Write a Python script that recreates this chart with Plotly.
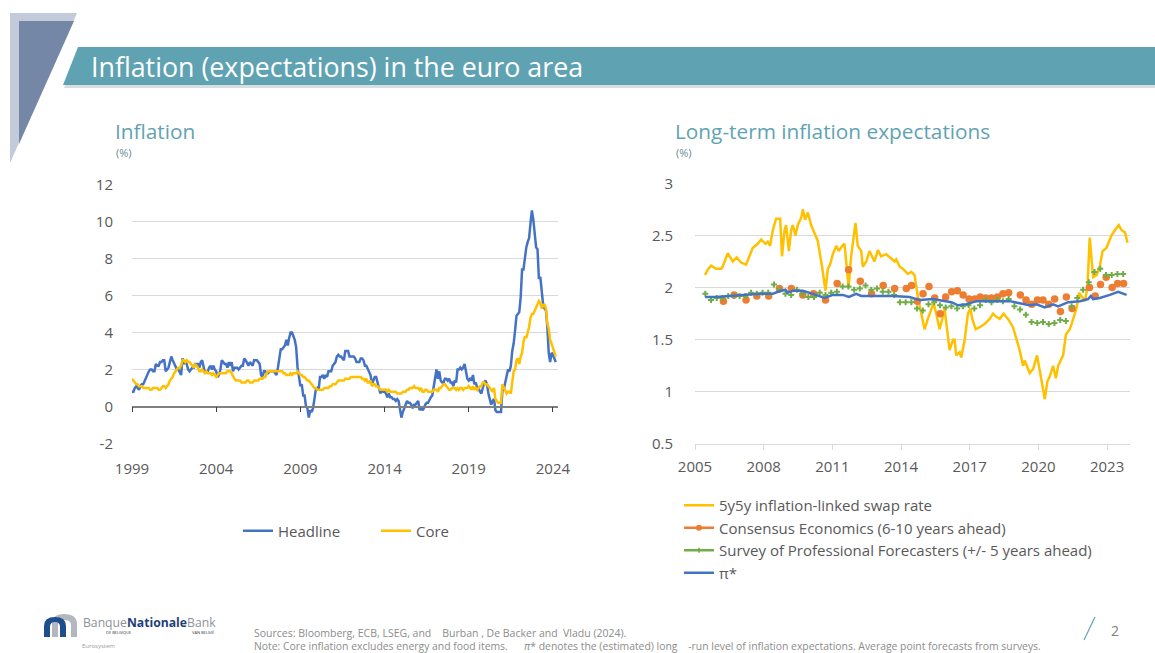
import plotly.graph_objects as go

W, H = 1155, 653

# ---------------- DATA ----------------
# Euro area HICP, y-o-y %, monthly Jan 1999 - Mar 2024
headline = [
    0.8, 0.8, 1.0, 1.1, 1.0, 0.9, 1.1, 1.2, 1.2, 1.4, 1.5, 1.7,
    1.9, 2.0, 2.0, 1.9, 1.9, 2.3, 2.2, 2.2, 2.4, 2.4, 2.5, 2.5,
    1.9, 2.0, 2.1, 2.4, 2.7, 2.5, 2.3, 2.2, 2.0, 2.0, 1.8, 1.7,
    2.6, 2.3, 2.4, 2.3, 2.0, 1.9, 2.0, 2.1, 2.1, 2.3, 2.3, 2.3,
    2.1, 2.4, 2.5, 2.1, 1.8, 1.9, 1.9, 2.1, 2.2, 2.0, 2.2, 2.0,
    1.9, 1.6, 1.7, 2.0, 2.5, 2.4, 2.3, 2.3, 2.1, 2.4, 2.2, 2.4,
    1.9, 2.1, 2.1, 2.1, 2.0, 2.1, 2.2, 2.2, 2.6, 2.5, 2.3, 2.2,
    2.4, 2.3, 2.2, 2.5, 2.5, 2.5, 2.4, 2.3, 1.7, 1.6, 1.9, 1.9,
    1.8, 1.8, 1.9, 1.9, 1.9, 1.9, 1.8, 1.7, 2.1, 2.6, 3.1, 3.1,
    3.2, 3.3, 3.6, 3.3, 3.7, 4.0, 4.0, 3.8, 3.6, 3.2, 2.1, 1.6,
    1.1, 1.2, 0.6, 0.6, 0.0, -0.1, -0.6, -0.2, -0.3, -0.1, 0.5, 0.9,
    1.0, 0.9, 1.6, 1.6, 1.7, 1.5, 1.7, 1.6, 1.9, 1.9, 1.9, 2.2,
    2.3, 2.4, 2.7, 2.8, 2.7, 2.7, 2.6, 2.5, 3.0, 3.0, 3.0, 2.7,
    2.7, 2.7, 2.7, 2.6, 2.4, 2.4, 2.4, 2.6, 2.6, 2.5, 2.2, 2.2,
    2.0, 1.8, 1.7, 1.2, 1.4, 1.6, 1.6, 1.3, 1.1, 0.7, 0.9, 0.8,
    0.8, 0.7, 0.5, 0.7, 0.5, 0.5, 0.4, 0.4, 0.3, 0.4, 0.3, -0.2,
    -0.6, -0.3, -0.1, 0.0, 0.3, 0.2, 0.2, 0.1, -0.1, 0.1, 0.1, 0.2,
    0.3, -0.2, 0.0, -0.2, -0.1, 0.1, 0.2, 0.2, 0.4, 0.5, 0.6, 1.1,
    1.7, 2.0, 1.5, 1.9, 1.4, 1.3, 1.3, 1.5, 1.5, 1.4, 1.5, 1.3,
    1.3, 1.1, 1.4, 1.3, 2.0, 2.0, 2.1, 2.0, 2.1, 2.3, 1.9, 1.5,
    1.4, 1.5, 1.4, 1.7, 1.2, 1.3, 1.0, 1.0, 0.8, 0.7, 1.0, 1.3,
    1.4, 1.2, 0.7, 0.3, 0.1, 0.3, 0.4, -0.2, -0.3, -0.3, -0.3, -0.3,
    0.9, 0.9, 1.3, 1.6, 2.0, 1.9, 2.2, 3.0, 3.4, 4.1, 4.9, 5.0,
    5.1, 5.9, 7.4, 7.4, 8.1, 8.6, 8.9, 9.1, 9.9, 10.6, 10.1, 9.2,
    8.6, 8.5, 6.9, 7.0, 6.1, 5.5, 5.3, 5.2, 4.3, 2.9, 2.4, 2.9,
    2.8, 2.6, 2.4,
]
core = [
    1.5, 1.4, 1.3, 1.2, 1.2, 1.1, 1.1, 1.1, 1.0, 1.0, 1.0, 1.0,
    1.0, 0.9, 0.9, 1.0, 1.0, 1.0, 1.0, 0.9, 0.9, 1.0, 1.1, 1.1,
    1.0, 1.1, 1.2, 1.4, 1.5, 1.6, 1.8, 1.9, 2.0, 2.1, 2.1, 2.2,
    2.5, 2.5, 2.4, 2.5, 2.4, 2.4, 2.3, 2.2, 2.1, 2.3, 2.2, 2.1,
    1.9, 1.9, 2.0, 1.9, 1.8, 1.9, 1.8, 1.8, 1.8, 1.7, 1.8, 1.7,
    1.6, 1.7, 1.8, 1.8, 1.8, 1.8, 1.8, 1.8, 1.9, 1.9, 1.9, 1.8,
    1.6, 1.5, 1.4, 1.4, 1.4, 1.4, 1.3, 1.3, 1.3, 1.3, 1.4, 1.4,
    1.3, 1.3, 1.3, 1.4, 1.4, 1.4, 1.4, 1.5, 1.5, 1.5, 1.6, 1.6,
    1.8, 1.9, 1.9, 1.9, 1.9, 1.9, 1.9, 1.9, 1.9, 1.9, 1.9, 1.9,
    1.8, 1.8, 1.7, 1.7, 1.7, 1.8, 1.7, 1.8, 1.8, 1.8, 1.9, 1.8,
    1.7, 1.7, 1.6, 1.6, 1.5, 1.4, 1.4, 1.3, 1.2, 1.1, 1.0, 1.0,
    0.9, 0.9, 0.9, 0.9, 0.9, 1.0, 1.0, 1.0, 1.0, 1.1, 1.1, 1.2,
    1.2, 1.2, 1.3, 1.4, 1.4, 1.4, 1.4, 1.4, 1.5, 1.5, 1.5, 1.5,
    1.6, 1.6, 1.6, 1.6, 1.6, 1.6, 1.6, 1.6, 1.5, 1.5, 1.4, 1.5,
    1.3, 1.3, 1.4, 1.1, 1.2, 1.2, 1.1, 1.1, 1.0, 0.9, 0.9, 0.9,
    0.9, 0.9, 0.8, 0.9, 0.8, 0.8, 0.8, 0.8, 0.8, 0.7, 0.7, 0.7,
    0.7, 0.8, 0.8, 0.8, 0.9, 0.9, 1.0, 1.0, 1.0, 1.1, 1.0, 1.0,
    1.0, 0.9, 1.0, 0.8, 0.8, 0.9, 0.9, 0.8, 0.8, 0.8, 0.8, 0.9,
    0.9, 0.9, 0.8, 1.0, 1.0, 1.1, 1.2, 1.2, 1.1, 1.0, 0.9, 0.9,
    1.0, 1.0, 1.0, 0.9, 1.0, 0.9, 1.0, 1.0, 0.9, 1.0, 1.0, 1.0,
    1.1, 1.0, 0.9, 1.1, 0.9, 1.0, 0.9, 1.0, 1.1, 1.1, 1.3, 1.3,
    1.2, 1.2, 1.1, 1.0, 0.9, 0.8, 1.0, 0.4, 0.3, 0.2, 0.2, 0.2,
    1.2, 1.0, 0.8, 0.7, 0.8, 0.8, 0.7, 1.5, 1.9, 2.0, 2.5, 2.6,
    2.3, 2.7, 2.9, 3.5, 3.8, 3.7, 4.0, 4.3, 4.8, 5.0, 5.0, 5.2,
    5.3, 5.6, 5.7, 5.6, 5.3, 5.5, 5.5, 5.3, 4.5, 4.2, 3.6, 3.4,
    3.2, 3.0, 2.7,
]
infl_start_year = 1999
infl_months = [infl_start_year + i / 12 for i in range(len(headline))]
left_ticks = [1999, 2004, 2009, 2014, 2019, 2024]
left_yticks = [-2, 0, 2, 4, 6, 8, 10, 12]
left_yticktext = ["-2", "0", "2", "4", "6", "8", "10", "12"]

# 5y5y inflation-linked swap rate (decimal year, %)
swap_t = [2005.44, 2005.55, 2005.70, 2005.92, 2006.14, 2006.21, 2006.43, 2006.65, 2006.82, 2007.01,
          2007.23, 2007.38, 2007.52, 2007.74, 2007.89, 2008.08, 2008.18, 2008.28, 2008.40, 2008.54,
          2008.72, 2008.80, 2008.91, 2008.98, 2009.10, 2009.20, 2009.27, 2009.39, 2009.49, 2009.64,
          2009.71, 2009.81, 2009.93, 2010.07, 2010.22, 2010.36, 2010.55, 2010.70, 2010.80, 2010.90,
          2011.02, 2011.17, 2011.28, 2011.43, 2011.53, 2011.71, 2011.82, 2012.01, 2012.11, 2012.26,
          2012.33, 2012.48, 2012.62, 2012.84, 2012.99, 2013.13, 2013.35, 2013.57, 2013.72, 2013.79,
          2013.94, 2014.08, 2014.30, 2014.45, 2014.59, 2014.74, 2015.03, 2015.17, 2015.32, 2015.42,
          2015.54, 2015.68, 2015.80, 2015.90, 2016.01, 2016.12, 2016.27, 2016.34, 2016.41, 2016.56,
          2016.63, 2016.78, 2016.92, 2017.03, 2017.11, 2017.26, 2017.43, 2017.65, 2017.87, 2018.02,
          2018.16, 2018.31, 2018.48, 2018.67, 2018.89, 2019.04, 2019.18, 2019.33, 2019.40, 2019.62,
          2019.77, 2019.94, 2020.13, 2020.28, 2020.39, 2020.50, 2020.64, 2020.76, 2020.86, 2021.08,
          2021.20, 2021.37, 2021.52, 2021.66, 2021.78, 2022.03, 2022.14, 2022.24, 2022.39, 2022.54,
          2022.68, 2022.80, 2022.97, 2023.09, 2023.19, 2023.34, 2023.51, 2023.63, 2023.78, 2023.89]
swap_v = [2.12, 2.17, 2.21, 2.18, 2.18, 2.20, 2.33, 2.25, 2.29, 2.24,
          2.22, 2.30, 2.38, 2.42, 2.46, 2.42, 2.44, 2.40, 2.55, 2.66,
          2.66, 2.30, 2.55, 2.60, 2.35, 2.55, 2.60, 2.50, 2.60, 2.67,
          2.75, 2.65, 2.72, 2.60, 2.53, 2.45, 2.20, 1.97, 2.18, 2.22,
          2.32, 2.40, 2.35, 2.40, 2.42, 2.00, 2.30, 2.62, 2.40, 2.35,
          2.20, 2.25, 2.35, 2.25, 2.36, 2.30, 2.32, 2.28, 2.25, 2.27,
          2.20, 2.18, 2.13, 2.15, 2.12, 1.90, 1.60, 1.70, 1.78, 1.85,
          1.75, 1.60, 1.70, 1.80, 1.60, 1.40, 1.50, 1.50, 1.35, 1.38,
          1.33, 1.50, 1.75, 1.80, 1.70, 1.60, 1.62, 1.65, 1.70, 1.75,
          1.72, 1.70, 1.75, 1.70, 1.62, 1.50, 1.40, 1.25, 1.30, 1.18,
          1.22, 1.35, 1.10, 0.93, 1.10, 1.15, 1.25, 1.13, 1.25, 1.35,
          1.55, 1.60, 1.70, 1.80, 1.95, 1.87, 2.00, 2.48, 2.10, 2.12,
          2.20, 2.35, 2.38, 2.45, 2.50, 2.55, 2.60, 2.55, 2.53, 2.43]

# Consensus Economics (6-10 years ahead)
cons_t = [2006.24, 2006.71, 2007.23, 2007.70, 2008.22, 2008.69, 2009.21, 2009.71, 2010.18, 2010.70,
          2011.21, 2011.71, 2012.22, 2012.71, 2013.22, 2013.72, 2014.23, 2014.46, 2014.71, 2014.96,
          2015.22, 2015.47, 2015.71, 2015.95, 2016.21, 2016.46, 2016.71, 2016.97, 2017.22, 2017.46,
          2017.70, 2017.94, 2018.21, 2018.45, 2018.70, 2019.21, 2019.46, 2019.71, 2019.96, 2020.20,
          2020.45, 2020.71, 2020.96, 2021.22, 2021.47, 2022.23, 2022.48, 2022.71, 2022.96, 2023.22,
          2023.46, 2023.72]
cons_v = [1.87, 1.93, 1.88, 1.92, 1.92, 1.99, 1.99, 1.93, 1.94, 1.88,
          2.04, 2.17, 2.06, 1.94, 2.02, 1.99, 1.99, 2.02, 1.87, 1.94,
          2.01, 1.90, 1.75, 1.91, 1.96, 1.97, 1.93, 1.89, 1.89, 1.91,
          1.90, 1.90, 1.91, 1.94, 1.95, 1.93, 1.88, 1.84, 1.88, 1.88,
          1.84, 1.89, 1.77, 1.91, 1.80, 2.00, 1.92, 2.03, 2.10, 2.00,
          2.04, 2.04]

# ECB Survey of Professional Forecasters (quarterly, from 2005 Q2)
spf_v = [1.94, 1.88, 1.90, 1.90, 1.92, 1.92, 1.92, 1.92, 1.95, 1.94,
         1.95, 1.95, 2.03, 1.98, 1.94, 1.93, 1.98, 1.94, 1.91, 1.91,
         1.95, 1.93, 1.95, 1.96, 2.01, 2.01, 1.98, 1.99, 2.02, 1.98,
         1.99, 1.96, 1.96, 1.93, 1.86, 1.86, 1.86, 1.80, 1.78, 1.84,
         1.86, 1.83, 1.81, 1.82, 1.80, 1.82, 1.83, 1.80, 1.83, 1.88,
         1.86, 1.88, 1.87, 1.89, 1.82, 1.79, 1.74, 1.67, 1.66, 1.67,
         1.65, 1.66, 1.69, 1.68, 1.82, 1.90, 1.98, 2.05, 2.15, 2.18,
         2.12, 2.12, 2.13, 2.13]
spf_start = 2005.45
spf_t = [spf_start + 0.25 * i for i in range(len(spf_v))]

# pi* (estimated long-run inflation expectations)
pistar_t = [2005.44, 2005.92, 2006.50, 2007.23, 2007.81, 2008.40, 2008.62, 2008.95, 2009.05, 2009.27,
            2009.71, 2010.15, 2010.66, 2011.02, 2011.46, 2011.72, 2012.04, 2012.26, 2012.92, 2013.64,
            2014.37, 2014.81, 2015.39, 2015.83, 2016.20, 2016.49, 2016.85, 2017.29, 2018.02, 2018.75,
            2019.18, 2019.62, 2019.91, 2020.28, 2020.64, 2020.86, 2021.30, 2021.81, 2022.17, 2022.29,
            2022.39, 2022.68, 2023.12, 2023.48, 2023.85]
pistar_v = [1.91, 1.91, 1.92, 1.93, 1.94, 1.94, 1.96, 1.98, 1.95, 1.97,
            1.97, 1.94, 1.90, 1.93, 1.93, 1.91, 1.94, 1.92, 1.92, 1.92,
            1.91, 1.88, 1.89, 1.87, 1.86, 1.83, 1.84, 1.87, 1.87, 1.87,
            1.85, 1.83, 1.84, 1.81, 1.84, 1.82, 1.86, 1.87, 1.89, 1.92,
            1.89, 1.90, 1.93, 1.96, 1.93]
right_ticks = [2005, 2008, 2011, 2014, 2017, 2020, 2023]
right_yticks = [0.5, 1, 1.5, 2, 2.5, 3]
right_yticktext = ["0.5", "1", "1.5", "2", "2.5", "3"]

# ---------------- STYLE ----------------
BLUE = "#4472C4"
YELLOW = "#FFC000"
ORANGE = "#ED7D31"
GREEN = "#70AD47"
TEAL = "#5FA3B3"
GRID = "#D9D9D9"
TXT = "#595959"
FONT = "Open Sans"
CLEAR = "rgba(0,0,0,0)"


def px(x):
    return x / W


def py(y):
    return 1 - y / H


# plot areas (pixels)
L_x0, L_x1, L_ytop, L_ybot = 132, 558, 184.5, 443.5
R_x0, R_x1, R_ytop, R_ybot = 695, 1130, 183.3, 444.0

fig = go.Figure()

fig.add_trace(go.Scatter(x=infl_months, y=headline, mode="lines", name="Headline",
                         line=dict(color=BLUE, width=2.5), xaxis="x", yaxis="y", legend="legend"))
fig.add_trace(go.Scatter(x=infl_months, y=core, mode="lines", name="Core",
                         line=dict(color=YELLOW, width=2.5), xaxis="x", yaxis="y", legend="legend2"))
# helper trace so the zero-line axis is drawn
fig.add_trace(go.Scatter(x=[None], y=[None], xaxis="x3", yaxis="y", showlegend=False, hoverinfo="skip"))

fig.add_trace(go.Scatter(x=swap_t, y=swap_v, mode="lines", name="5y5y inflation-linked swap rate",
                         line=dict(color=YELLOW, width=2.5), xaxis="x2", yaxis="y2", legend="legend3"))
fig.add_trace(go.Scatter(x=cons_t, y=cons_v, mode="markers", showlegend=False,
                         marker=dict(color=ORANGE, size=7.5), xaxis="x2", yaxis="y2"))
fig.add_trace(go.Scatter(x=[None], y=[None], mode="lines+markers", name="Consensus Economics (6-10 years ahead)",
                         line=dict(color=ORANGE, width=2.5), marker=dict(color=ORANGE, size=6),
                         xaxis="x2", yaxis="y2", legend="legend3"))
fig.add_trace(go.Scatter(x=spf_t, y=spf_v, mode="markers", showlegend=False,
                         marker=dict(color=GREEN, size=5, symbol="cross"), xaxis="x2", yaxis="y2"))
fig.add_trace(go.Scatter(x=[None], y=[None], mode="lines+markers",
                         name="Survey of Professional Forecasters (+/- 5 years ahead)",
                         line=dict(color=GREEN, width=2.5), marker=dict(color=GREEN, size=4, symbol="cross"),
                         xaxis="x2", yaxis="y2", legend="legend3"))
fig.add_trace(go.Scatter(x=pistar_t, y=pistar_v, mode="lines", name="π*",
                         line=dict(color=BLUE, width=2.5), xaxis="x2", yaxis="y2", legend="legend3"))

L_ymin, L_ymax = -2, 12
zero_pos = py(L_ybot) + (0 - L_ymin) / (L_ymax - L_ymin) * (py(L_ytop) - py(L_ybot))

tickfont = dict(family=FONT, size=15, color=TXT)

fig.update_layout(
    width=W, height=H, margin=dict(l=0, r=0, t=0, b=0, autoexpand=False),
    paper_bgcolor="white", plot_bgcolor="white",
    font=dict(family=FONT, color=TXT),
    xaxis=dict(domain=[px(L_x0), px(L_x1)], range=[1999, 2024.3], tickvals=left_ticks, anchor="y",
               showgrid=False, zeroline=False, showline=False, ticks="outside", ticklen=11,
               tickcolor=CLEAR, tickfont=tickfont, automargin=False),
    xaxis3=dict(overlaying="x", matches="x", anchor="free", position=zero_pos, showticklabels=False,
                ticks="outside", ticklen=5, tickwidth=1.2, tickcolor="#404040", tickvals=left_ticks,
                showline=True, linecolor="#808080", linewidth=1.6, showgrid=False, zeroline=False,
                automargin=False),
    yaxis=dict(domain=[py(L_ybot), py(L_ytop)], range=[L_ymin, L_ymax], tickvals=left_yticks,
               ticktext=left_yticktext, anchor="x",
               showgrid=True, gridcolor=GRID, gridwidth=1, zeroline=False, showline=False,
               ticks="outside", ticklen=15, tickcolor=CLEAR, tickfont=tickfont, automargin=False),
    xaxis2=dict(domain=[px(R_x0), px(R_x1)], range=[2005, 2024.0], tickvals=right_ticks,
                showgrid=False, zeroline=False, showline=True, linecolor=GRID, linewidth=1,
                ticks="outside", ticklen=5, tickcolor=GRID, tickfont=tickfont, anchor="y2",
                ticklabelstandoff=4, automargin=False),
    yaxis2=dict(domain=[py(R_ybot), py(R_ytop)], range=[0.5, 3.0], tickvals=right_yticks,
                ticktext=right_yticktext, showgrid=True, gridcolor=GRID, zeroline=False,
                showline=False, ticks="outside", ticklen=18, tickcolor=CLEAR, tickfont=tickfont,
                anchor="x2", automargin=False),
    legend=dict(x=px(238), y=py(531), xanchor="left", yanchor="middle", orientation="h",
                font=dict(family=FONT, size=15, color=TXT), bgcolor=CLEAR),
    legend2=dict(x=px(376), y=py(531), xanchor="left", yanchor="middle", orientation="h",
                 font=dict(family=FONT, size=15, color=TXT), bgcolor=CLEAR),
    legend3=dict(x=px(679), y=py(539), xanchor="left", yanchor="middle", orientation="v",
                 font=dict(family=FONT, size=15, color=TXT), bgcolor=CLEAR,
                 tracegroupgap=0),
    showlegend=True,
)

shapes = []
# decorative left shapes
shapes.append(dict(type="path", xref="paper", yref="paper", layer="below",
                   path=f"M {px(10)},{py(13)} L {px(77)},{py(13)} L {px(10)},{py(163)} Z",
                   fillcolor="#C3CBDA", line=dict(width=0)))
shapes.append(dict(type="path", xref="paper", yref="paper", layer="below",
                   path=f"M {px(19)},{py(21)} L {px(74)},{py(21)} L {px(19)},{py(144)} Z",
                   fillcolor="#7487A7", line=dict(width=0)))
# title bar shadow + bar
shapes.append(dict(type="path", xref="paper", yref="paper", layer="below",
                   path=f"M {px(80)},{py(49)} L {px(1155)},{py(49)} L {px(1155)},{py(88)} L {px(64)},{py(88)} Z",
                   fillcolor="#DADDE0", line=dict(width=0)))
shapes.append(dict(type="path", xref="paper", yref="paper", layer="below",
                   path=f"M {px(78)},{py(47)} L {px(1155)},{py(47)} L {px(1155)},{py(85)} L {px(63)},{py(85)} Z",
                   fillcolor=TEAL, line=dict(width=0)))
# footer logo arches
shapes.append(dict(type="path", xref="paper", yref="paper",
                   path=(f"M {px(52)},{py(637)} L {px(52)},{py(624)} Q {px(52)},{py(614)} {px(64)},{py(614)} "
                         f"Q {px(77)},{py(614)} {px(77)},{py(624)} L {px(77)},{py(637)} L {px(71)},{py(637)} "
                         f"L {px(71)},{py(625)} Q {px(71)},{py(620)} {px(64)},{py(620)} Q {px(58)},{py(620)} {px(58)},{py(625)} "
                         f"L {px(58)},{py(637)} Z"),
                   fillcolor="#B4B8BE", line=dict(width=0)))
shapes.append(dict(type="path", xref="paper", yref="paper",
                   path=(f"M {px(44)},{py(637)} L {px(44)},{py(626)} Q {px(44)},{py(617)} {px(55)},{py(617)} "
                         f"Q {px(66)},{py(617)} {px(66)},{py(626)} L {px(66)},{py(637)} L {px(60)},{py(637)} "
                         f"L {px(60)},{py(627)} Q {px(60)},{py(622)} {px(55)},{py(622)} Q {px(50)},{py(622)} {px(50)},{py(627)} "
                         f"L {px(50)},{py(637)} Z"),
                   fillcolor="#1F4E8C", line=dict(width=0)))
# page slash
shapes.append(dict(type="line", xref="paper", yref="paper", x0=px(1084), y0=py(640), x1=px(1095), y1=py(617),
                   line=dict(color=TEAL, width=1.2)))
fig.update_layout(shapes=shapes)

ann = []
ann.append(dict(text="Inflation (expectations) in the euro area", x=px(89), y=py(66), xref="paper", yref="paper",
                xanchor="left", yanchor="middle", showarrow=False,
                font=dict(family=FONT, size=26.8, color="white")))
for (tx, xx) in [("Inflation", 113), ("Long-term inflation expectations", 673)]:
    ann.append(dict(text=tx, x=px(xx), y=py(131), xref="paper", yref="paper", xanchor="left",
                    yanchor="middle", showarrow=False, font=dict(family=FONT, size=20.8, color=TEAL)))
    ann.append(dict(text="(%)", x=px(xx + 1), y=py(153), xref="paper", yref="paper", xanchor="left",
                    yanchor="middle", showarrow=False, font=dict(family=FONT, size=11, color="#6A8C96")))
ann.append(dict(text="Banque<b><span style='color:#1F3F7A'>Nationale</span></b>Bank", x=px(81), y=py(622),
                xref="paper", yref="paper", xanchor="left", yanchor="middle", showarrow=False,
                font=dict(family=FONT, size=12.2, color="#8E9298")))
ann.append(dict(text="DE BELGIQUE", x=px(104), y=py(632), xref="paper", yref="paper", xanchor="left",
                yanchor="middle", showarrow=False, font=dict(family=FONT, size=4, color="#333333")))
ann.append(dict(text="VAN BELGIË", x=px(190), y=py(632), xref="paper", yref="paper", xanchor="left",
                yanchor="middle", showarrow=False, font=dict(family=FONT, size=4, color="#333333")))
ann.append(dict(text="Eurosystem", x=px(80), y=py(646), xref="paper", yref="paper", xanchor="left",
                yanchor="middle", showarrow=False, font=dict(family=FONT, size=6, color="#9A9A9A")))
ann.append(dict(text="Sources: Bloomberg, ECB, LSEG, and    Burban , De Backer and  Vladu (2024).",
                x=px(252), y=py(633), xref="paper", yref="paper", xanchor="left", yanchor="middle",
                showarrow=False, font=dict(family=FONT, size=10.5, color="#8C8C8C")))
ann.append(dict(text=("Note: Core inflation excludes energy and food items.      <i>π</i>* denotes the (estimated) long"
                      "    -run level of inflation expectations. Average point forecasts from surveys."),
                x=px(252), y=py(646), xref="paper", yref="paper", xanchor="left", yanchor="middle",
                showarrow=False, font=dict(family=FONT, size=10.4, color="#8C8C8C")))
ann.append(dict(text="2", x=px(1115), y=py(630), xref="paper", yref="paper", xanchor="center",
                yanchor="middle", showarrow=False, font=dict(family=FONT, size=14, color="#7F7F7F")))
fig.update_layout(annotations=ann)

fig.write_html("out.html", config={"displayModeBar": False},
               post_script="document.body.style.margin='0px';document.body.style.overflow='hidden';")
